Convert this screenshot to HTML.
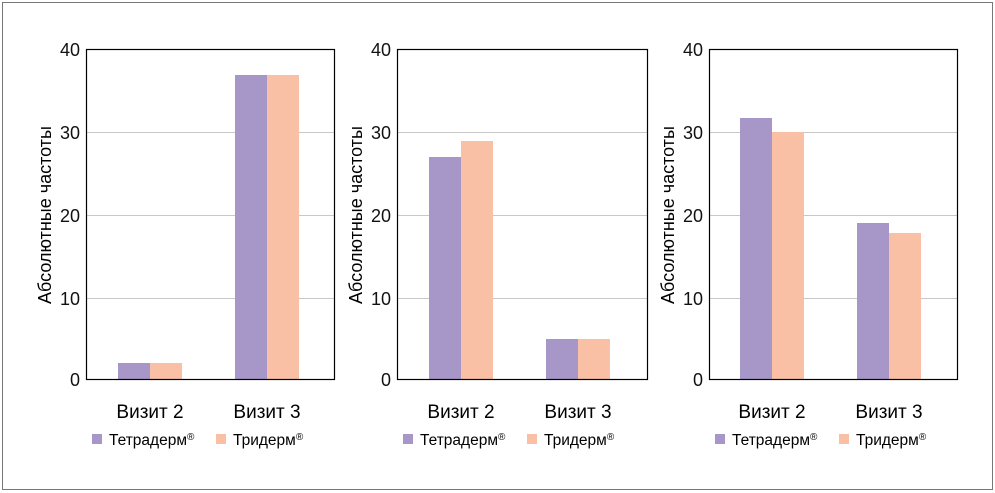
<!DOCTYPE html>
<html><head><meta charset="utf-8"><style>
body{margin:0;background:#fff;width:995px;height:493px;overflow:hidden}
svg{display:block;font-family:"Liberation Sans",sans-serif}
</style></head><body>
<svg width="995" height="493" viewBox="0 0 995 493">
<rect x="2.5" y="2.5" width="990" height="487" fill="#fff" stroke="#777" stroke-width="1"/>
<!-- Panel 1 -->
<g>
<g stroke="#c8c8c8" stroke-width="1"><line x1="86" x2="334" y1="132.5" y2="132.5"/><line x1="86" x2="334" y1="215.5" y2="215.5"/><line x1="86" x2="334" y1="298.5" y2="298.5"/></g>
<rect x="118" y="363" width="32" height="17" fill="#a797c9"/><rect x="150" y="363" width="32" height="17" fill="#f9c0a5"/>
<rect x="235" y="75" width="32" height="305" fill="#a797c9"/><rect x="267" y="75" width="32" height="305" fill="#f9c0a5"/>
<rect x="86.5" y="49.5" width="248" height="330" fill="none" stroke="#000" stroke-width="1.2"/>
<g font-size="18" text-anchor="end" fill="#111"><text x="80" y="56">40</text><text x="80" y="139">30</text><text x="80" y="222">20</text><text x="80" y="305">10</text><text x="80" y="386">0</text></g>
<text transform="translate(51,215) rotate(-90)" font-size="18" text-anchor="middle">Абсолютные частоты</text>
<g font-size="19" text-anchor="middle"><text x="150" y="418">Визит 2</text><text x="267" y="418">Визит 3</text></g>
<rect x="92" y="434" width="10" height="10" fill="#a797c9"/><text x="109" y="445" font-size="15.5">Тетрадерм<tspan font-size="10" dy="-5">®</tspan></text>
<rect x="216" y="434" width="10" height="10" fill="#f9c0a5"/><text x="233" y="445" font-size="15.5">Тридерм<tspan font-size="10" dy="-5">®</tspan></text>
</g>
<!-- Panel 2 -->
<g>
<g stroke="#c8c8c8" stroke-width="1"><line x1="397" x2="648" y1="132.5" y2="132.5"/><line x1="397" x2="648" y1="215.5" y2="215.5"/><line x1="397" x2="648" y1="298.5" y2="298.5"/></g>
<rect x="429" y="157" width="32" height="223" fill="#a797c9"/><rect x="461" y="141" width="32" height="239" fill="#f9c0a5"/>
<rect x="546" y="339" width="32" height="41" fill="#a797c9"/><rect x="578" y="339" width="32" height="41" fill="#f9c0a5"/>
<rect x="397.5" y="49.5" width="250" height="330" fill="none" stroke="#000" stroke-width="1.2"/>
<g font-size="18" text-anchor="end" fill="#111"><text x="391" y="56">40</text><text x="391" y="139">30</text><text x="391" y="222">20</text><text x="391" y="305">10</text><text x="391" y="386">0</text></g>
<text transform="translate(362,215) rotate(-90)" font-size="18" text-anchor="middle">Абсолютные частоты</text>
<g font-size="19" text-anchor="middle"><text x="461" y="418">Визит 2</text><text x="578" y="418">Визит 3</text></g>
<rect x="403" y="434" width="10" height="10" fill="#a797c9"/><text x="420" y="445" font-size="15.5">Тетрадерм<tspan font-size="10" dy="-5">®</tspan></text>
<rect x="527" y="434" width="10" height="10" fill="#f9c0a5"/><text x="544" y="445" font-size="15.5">Тридерм<tspan font-size="10" dy="-5">®</tspan></text>
</g>
<!-- Panel 3 -->
<g>
<g stroke="#c8c8c8" stroke-width="1"><line x1="709" x2="958" y1="132.5" y2="132.5"/><line x1="709" x2="958" y1="215.5" y2="215.5"/><line x1="709" x2="958" y1="298.5" y2="298.5"/></g>
<rect x="740" y="118" width="32" height="262" fill="#a797c9"/><rect x="772" y="132" width="32" height="248" fill="#f9c0a5"/>
<rect x="857" y="223" width="32" height="157" fill="#a797c9"/><rect x="889" y="233" width="32" height="147" fill="#f9c0a5"/>
<rect x="709.5" y="49.5" width="248" height="330" fill="none" stroke="#000" stroke-width="1.2"/>
<g font-size="18" text-anchor="end" fill="#111"><text x="703" y="56">40</text><text x="703" y="139">30</text><text x="703" y="222">20</text><text x="703" y="305">10</text><text x="703" y="386">0</text></g>
<text transform="translate(674,215) rotate(-90)" font-size="18" text-anchor="middle">Абсолютные частоты</text>
<g font-size="19" text-anchor="middle"><text x="772" y="418">Визит 2</text><text x="889" y="418">Визит 3</text></g>
<rect x="715" y="434" width="10" height="10" fill="#a797c9"/><text x="732" y="445" font-size="15.5">Тетрадерм<tspan font-size="10" dy="-5">®</tspan></text>
<rect x="839" y="434" width="10" height="10" fill="#f9c0a5"/><text x="856" y="445" font-size="15.5">Тридерм<tspan font-size="10" dy="-5">®</tspan></text>
</g>
</svg>
</body></html>
